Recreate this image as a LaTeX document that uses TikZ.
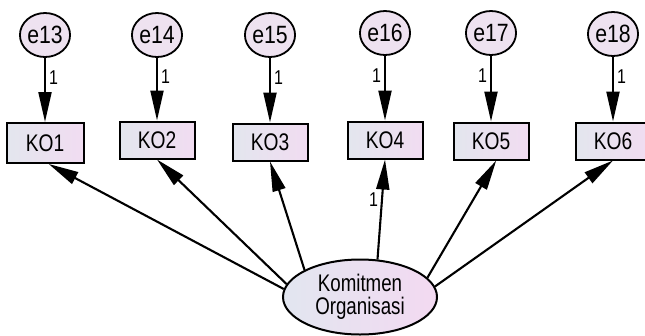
\documentclass[tikz,border=0pt]{standalone}
\usepackage{fontspec}
\setmainfont{Liberation Sans}
\newfontfamily\narrowsans[FakeStretch=0.80]{Liberation Sans}
\newfontfamily\errsans[FakeStretch=0.85]{Liberation Sans}
\newfontfamily\latsans[FakeStretch=0.78]{Liberation Sans}
\usetikzlibrary{arrows.meta,shapes.geometric}

\definecolor{boxleft}{HTML}{E3E6EE}
\definecolor{boxright}{HTML}{F1DCF1}
\definecolor{errfill}{HTML}{EEE2F0}
\definecolor{latleft}{HTML}{E2E6F0}
\definecolor{latright}{HTML}{F3D9F1}

\tikzset{
  observed/.style={draw=black, line width=2pt, rectangle, inner sep=0pt,
    minimum width=75pt, minimum height=37pt,
    left color=boxleft, right color=boxright,
    font=\narrowsans\fontsize{24}{24}\selectfont},
  errvar/.style={draw=black, line width=1.8pt, ellipse, inner sep=0pt,
    minimum width=40pt, minimum height=44pt, fill=errfill,
    font=\errsans\fontsize{25}{25}\selectfont},
  latent/.style={draw=black, line width=2pt, ellipse, inner sep=0pt,
    minimum width=154pt, minimum height=75pt,
    left color=latleft, right color=latright, align=center,
    font=\latsans\fontsize{24}{23}\selectfont},
  path arrow/.style={draw=black, line width=2.1pt,
    -{Triangle[length=30pt,width=13pt]}},
  weight/.style={font=\narrowsans\fontsize{20}{20}\selectfont, inner sep=3pt}
}

\begin{document}
\begin{tikzpicture}[x=1pt,y=-1pt]
  \useasboundingbox (0,0) rectangle (645,335);
  \clip (0,0) rectangle (645,335);
  \fill[white] (0,0) rectangle (645,335);

  % indicators
  \node[observed, minimum width=77pt, minimum height=40pt] (KO1) at (45,143) {KO1};
  \node[observed] (KO2) at (157,140) {KO2};
  \node[observed] (KO3) at (270,142) {KO3};
  \node[observed] (KO4) at (385,140) {KO4};
  \node[observed] (KO5) at (491,141) {KO5};
  \node[observed] (KO6) at (613,141) {KO6};

  % error terms
  \node[errvar] (e13) at (45,35) {e13};
  \node[errvar] (e14) at (157,35) {e14};
  \node[errvar] (e15) at (270,35) {e15};
  \node[errvar] (e16) at (385,33) {e16};
  \node[errvar] (e17) at (491,33) {e17};
  \node[errvar] (e18) at (613,34) {e18};

  % latent construct
  \node[latent] (K) at (360,297) {Komitmen\\Organisasi};

  % error paths
  \draw[path arrow] (e13) -- node[weight, right, pos=0.3] {1} (KO1);
  \draw[path arrow] (e14) -- node[weight, right, pos=0.3] {1} (KO2);
  \draw[path arrow] (e15) -- node[weight, right, pos=0.3] {1} (KO3);
  \draw[path arrow] (e16) -- node[weight, left, pos=0.3] {1} (KO4);
  \draw[path arrow] (e17) -- node[weight, left, pos=0.3] {1} (KO5);
  \draw[path arrow] (e18) -- node[weight, right, pos=0.3] {1} (KO6);

  % factor loadings
  \draw[path arrow] (K.174) -- (KO1.-80);
  \draw[path arrow] (K.170) -- (KO2.south);
  \draw[path arrow] (K.154) -- (KO3.south);
  \draw[path arrow] (K.65) -- node[weight, left, pos=0.6] {1} (KO4.south);
  \draw[path arrow] (K.16) -- (KO5.-75);
  \draw[path arrow] (K.8) -- (KO6.south);
\end{tikzpicture}
\end{document}
